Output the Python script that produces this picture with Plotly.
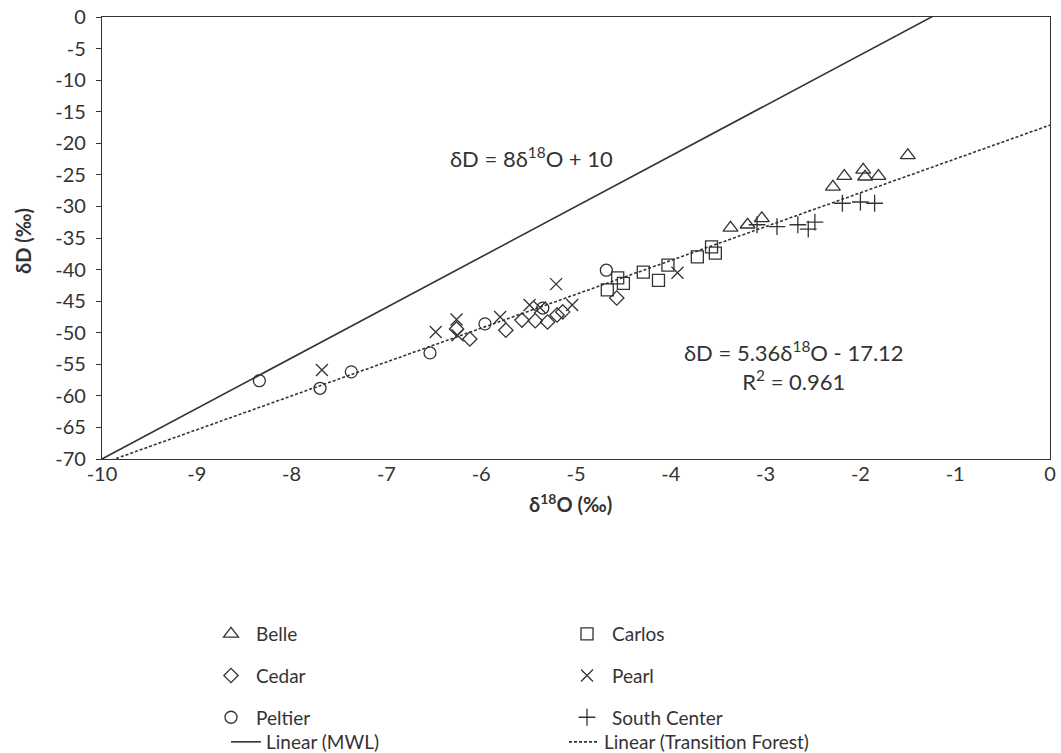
import numpy as np
import plotly.graph_objects as go

# Sample isotope values (δ18O, δD) per site, in per mil
belle_x = [-3.37, -3.19, -3.04, -2.29, -2.17, -1.97, -1.95, -1.81, -1.50]
belle_y = [-33.4, -32.9, -31.9, -26.9, -25.2, -24.2, -25.3, -25.2, -21.9]

carlos_x = [-4.67, -4.56, -4.50, -4.29, -4.13, -4.03, -3.72, -3.57, -3.53]
carlos_y = [-43.2, -41.3, -42.2, -40.4, -41.7, -39.3, -38.0, -36.4, -37.4]

cedar_x = [-6.26, -6.12, -5.74, -5.57, -5.43, -5.30, -5.20, -5.14, -4.57]
cedar_y = [-49.4, -51.0, -49.6, -48.0, -48.1, -48.3, -47.2, -46.7, -44.5]

pearl_x = [-7.68, -6.48, -6.26, -6.25, -5.80, -5.49, -5.38, -5.21, -5.04, -3.93]
pearl_y = [-55.9, -49.9, -47.9, -50.4, -47.5, -45.6, -46.0, -42.3, -45.6, -40.5]

peltier_x = [-8.34, -7.70, -7.37, -6.54, -5.96, -5.35, -4.68]
peltier_y = [-57.6, -58.8, -56.2, -53.2, -48.6, -46.1, -40.1]

south_x = [-3.09, -2.88, -2.66, -2.55, -2.48, -2.19, -2.00, -1.85]
south_y = [-32.9, -33.2, -32.9, -33.6, -32.5, -29.5, -29.3, -29.5]

# Meteoric water line and the fitted regression line
mwl_slope, mwl_intercept = 8.0, 10.0
fit_slope, fit_intercept = 5.36, -17.12
fit_r2 = 0.961
line_x = np.array([-10.0, 0.0])

x_ticks = list(range(-10, 1))
y_ticks = list(range(-70, 1, 5))

W, H = 1061, 753
INK = "#333333"
FONT = "Lato, 'Open Sans', sans-serif"

fig = go.Figure()


def add_points(name, xs, ys, symbol, size, legend):
    fig.add_trace(go.Scatter(
        x=xs, y=ys, mode="markers", name=name,
        legend=legend, legendgroup=name,
        marker=dict(symbol=symbol, size=size, color=INK,
                    line=dict(color=INK, width=1.3)),
    ))


add_points("Belle", belle_x, belle_y, "triangle-up-open", 13, "legend")
add_points("Cedar", cedar_x, cedar_y, "diamond-open", 11, "legend")
add_points("Peltier", peltier_x, peltier_y, "circle-open", 12, "legend")
add_points("Carlos", carlos_x, carlos_y, "square-open", 12, "legend2")
add_points("Pearl", pearl_x, pearl_y, "x-thin-open", 12, "legend2")
add_points("South Center", south_x, south_y, "cross-thin-open", 12, "legend2")

fig.add_trace(go.Scatter(
    x=line_x, y=mwl_slope * line_x + mwl_intercept, mode="lines",
    name="Linear (MWL)", legend="legend3",
    line=dict(color=INK, width=1.6),
))
fig.add_trace(go.Scatter(
    x=line_x, y=fit_slope * line_x + fit_intercept, mode="lines",
    name="Linear (Transition Forest)", legend="legend4",
    line=dict(color=INK, width=1.6, dash="3px,2px"),
))

legend_style = dict(
    xref="container", yref="container", xanchor="left", yanchor="top",
    orientation="v", font=dict(family=FONT, size=19, color=INK),
    bgcolor="rgba(0,0,0,0)", tracegroupgap=14,
)

tick_font = dict(family=FONT, size=20, color=INK)
note_font = dict(family=FONT, size=22, color=INK)
title_font = dict(family=FONT, size=20, color=INK)

fit_label = (
    f"δD = {fit_slope:.2f}δ<sup>18</sup>O - {abs(fit_intercept):.2f}"
    f"<br>R<sup>2</sup> = {fit_r2:.3f}"
)

fig.update_layout(
    width=W, height=H,
    margin=dict(l=102, r=11, t=17, b=294, autoexpand=False),
    paper_bgcolor="white", plot_bgcolor="white",
    font=dict(family=FONT, size=20, color=INK),
    showlegend=True,
    legend=dict(legend_style, x=206 / W, y=1 - 615 / H, itemwidth=40),
    legend2=dict(legend_style, x=562 / W, y=1 - 615 / H, itemwidth=40),
    legend3=dict(legend_style, x=226 / W, y=1 - 723 / H, itemwidth=30),
    legend4=dict(legend_style, x=564 / W, y=1 - 723 / H, itemwidth=30),
    xaxis=dict(
        range=[-10, 0], tickvals=x_ticks, ticktext=[str(v) for v in x_ticks],
        ticks="", ticklabelstandoff=-3, showline=True, linecolor=INK, linewidth=1.2,
        mirror=True, showgrid=False, zeroline=False, tickfont=tick_font,
    ),
    yaxis=dict(
        range=[-70, 0], tickvals=y_ticks, ticktext=[str(v) for v in y_ticks],
        ticks="outside", ticklen=5, tickcolor=INK, ticklabelstandoff=6,
        showline=True, linecolor=INK, linewidth=1.2,
        mirror=True, showgrid=False, zeroline=False, tickfont=tick_font,
    ),
    annotations=[
        dict(x=(570 - 102) / 948, y=-(503 - 459) / 442, xref="paper", yref="paper",
             xanchor="center", yanchor="middle", showarrow=False,
             text="<b>δ<sup>18</sup>O (‰)</b>", font=title_font),
        dict(x=-(102 - 23) / 948, y=(459 - 241) / 442, xref="paper", yref="paper",
             xanchor="center", yanchor="middle", showarrow=False, textangle=-90,
             text="<b>δD (‰)</b>", font=title_font),
        dict(x=-5.47, y=-22.2, xref="x", yref="y", showarrow=False,
             text="δD = 8δ<sup>18</sup>O + 10", font=note_font),
        dict(x=-2.7, y=-55.2, xref="x", yref="y", showarrow=False,
             align="center", yanchor="middle", text=fit_label, font=note_font),
    ],
)

fig.write_html("out.html")
